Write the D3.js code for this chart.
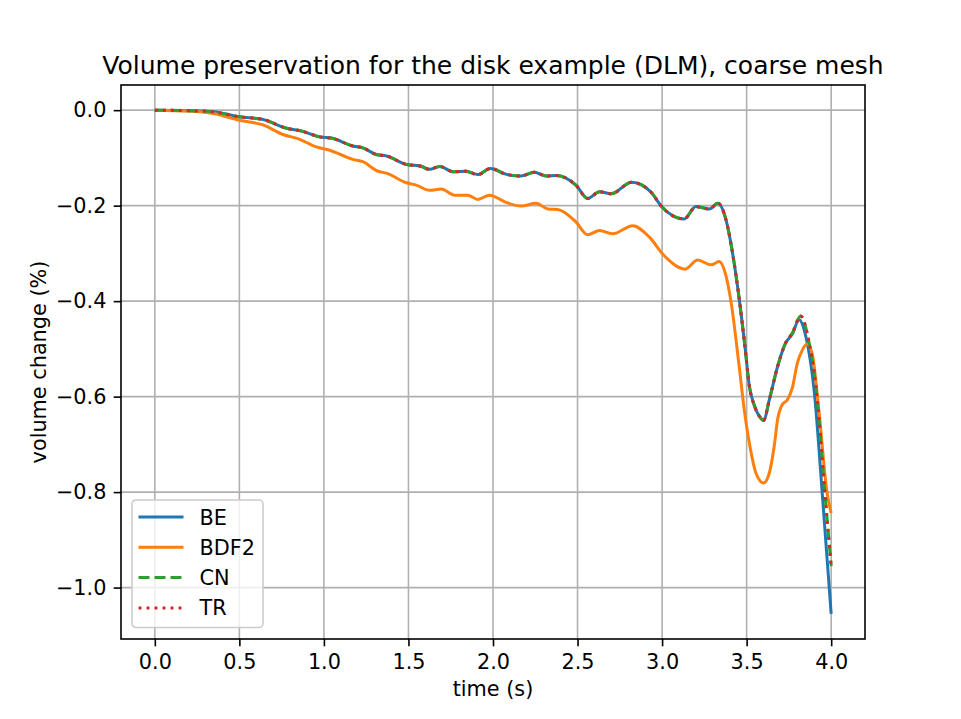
<!DOCTYPE html>
<html>
<head>
<meta charset="UTF-8">
<title>Volume preservation</title>
<script src="https://d3js.org/d3.v7.min.js"></script>
<style>
  body { margin: 0; background: #fff; }
  svg text { font-family: "DejaVu Sans", sans-serif; fill: #000; }
</style>
</head>
<body>
<div id="chart"></div>
<script>
// data
var beT = [0, 0.2, 0.345, 0.5, 0.64, 0.78, 0.87, 0.975, 1.05, 1.17, 1.23, 1.31, 1.37, 1.49, 1.57, 1.625, 1.685, 1.765, 1.84, 1.91, 1.985, 2.08, 2.165, 2.245, 2.315, 2.375, 2.49, 2.56, 2.63, 2.70, 2.82, 2.935, 3.0, 3.13, 3.2, 3.28, 3.33, 3.378, 3.417, 3.456, 3.49, 3.516, 3.545, 3.575, 3.6, 3.634, 3.683, 3.73, 3.77, 3.81, 3.85, 3.9, 3.95, 4.0];
var beV = [0, -0.001, -0.0035, -0.014, -0.0195, -0.038, -0.044, -0.056, -0.059, -0.075, -0.079, -0.093, -0.096, -0.114, -0.117, -0.124, -0.118, -0.129, -0.128, -0.135, -0.122, -0.1345, -0.138, -0.130, -0.138, -0.137, -0.157, -0.185, -0.171, -0.175, -0.151, -0.172, -0.203, -0.228, -0.202, -0.207, -0.195, -0.230, -0.300, -0.395, -0.495, -0.578, -0.618, -0.641, -0.650, -0.607, -0.537, -0.488, -0.469, -0.439, -0.474, -0.59, -0.816, -1.055];

var bdfT = [0, 0.2, 0.345, 0.5, 0.64, 0.758, 0.857, 0.955, 1.034, 1.17, 1.23, 1.32, 1.37, 1.487, 1.546, 1.625, 1.694, 1.772, 1.85, 1.91, 1.98, 2.07, 2.167, 2.255, 2.324, 2.383, 2.49, 2.56, 2.63, 2.708, 2.826, 2.925, 3.013, 3.137, 3.21, 3.29, 3.338, 3.374, 3.407, 3.456, 3.486, 3.516, 3.555, 3.6, 3.634, 3.663, 3.683, 3.71, 3.74, 3.77, 3.8, 3.83, 3.857, 3.887, 3.927, 3.976, 4.0];
var bdfV = [0, -0.002, -0.007, -0.021, -0.031, -0.051, -0.061, -0.077, -0.084, -0.103, -0.108, -0.128, -0.132, -0.152, -0.157, -0.168, -0.165, -0.178, -0.178, -0.187, -0.178, -0.192, -0.201, -0.195, -0.207, -0.208, -0.234, -0.261, -0.252, -0.259, -0.242, -0.266, -0.305, -0.333, -0.314, -0.324, -0.317, -0.342, -0.400, -0.537, -0.628, -0.697, -0.760, -0.781, -0.760, -0.704, -0.648, -0.617, -0.607, -0.582, -0.530, -0.502, -0.490, -0.509, -0.628, -0.802, -0.844];

var cnT = [0, 0.2, 0.345, 0.5, 0.64, 0.78, 0.87, 0.975, 1.05, 1.17, 1.23, 1.31, 1.37, 1.49, 1.57, 1.625, 1.685, 1.765, 1.84, 1.91, 1.985, 2.08, 2.165, 2.245, 2.315, 2.375, 2.49, 2.56, 2.63, 2.70, 2.82, 2.935, 3.0, 3.13, 3.2, 3.28, 3.33, 3.378, 3.417, 3.456, 3.49, 3.516, 3.545, 3.575, 3.6, 3.634, 3.683, 3.73, 3.77, 3.82, 3.87, 3.9, 3.918, 3.96, 4.0];
var cnV = [0, -0.001, -0.0035, -0.014, -0.0195, -0.038, -0.044, -0.056, -0.059, -0.075, -0.079, -0.093, -0.096, -0.114, -0.117, -0.124, -0.118, -0.129, -0.128, -0.135, -0.122, -0.1345, -0.138, -0.130, -0.138, -0.137, -0.157, -0.185, -0.171, -0.175, -0.151, -0.172, -0.203, -0.228, -0.202, -0.207, -0.195, -0.230, -0.300, -0.395, -0.495, -0.578, -0.618, -0.641, -0.650, -0.607, -0.537, -0.488, -0.467, -0.431, -0.488, -0.551, -0.607, -0.790, -0.955];

var trT = cnT.slice();
var trV = cnV.slice();

var xTicks = [0, 0.5, 1, 1.5, 2, 2.5, 3, 3.5, 4];
var yTicks = [0, -0.2, -0.4, -0.6, -0.8, -1.0];

var seriesNames = ["BE", "BDF2", "CN", "TR"];
var seriesColors = ["#1f77b4", "#ff7f0e", "#2ca02c", "#d62728"];
var seriesDash = [null, null, "11,5", "3,5"];

var W = 961, H = 719;
var margin = {top: 85, right: 96, bottom: 80, left: 121};
var width = W - margin.left - margin.right,
    height = H - margin.top - margin.bottom;

var svg = d3.select("#chart").append("svg")
  .attr("width", W)
  .attr("height", H);

var g = svg.append("g")
  .attr("transform", "translate(" + margin.left + "," + margin.top + ")");

var x = d3.scaleLinear().domain([-0.2, 4.2]).range([0, width]);
var y = d3.scaleLinear().domain([-1.1077, 0.0527]).range([height, 0]);

function fmt(d) { return d3.format(".1f")(d).replace("-", "\u2212"); }

// grid
g.append("g").selectAll("line").data(xTicks).enter().append("line")
  .attr("x1", function(d) { return x(d); }).attr("x2", function(d) { return x(d); })
  .attr("y1", 0).attr("y2", height)
  .attr("stroke", "#b0b0b0").attr("stroke-width", 1.6);
g.append("g").selectAll("line").data(yTicks).enter().append("line")
  .attr("y1", function(d) { return y(d); }).attr("y2", function(d) { return y(d); })
  .attr("x1", 0).attr("x2", width)
  .attr("stroke", "#b0b0b0").attr("stroke-width", 1.6);

// lines
var line = d3.line()
  .x(function(d) { return x(d[0]); })
  .y(function(d) { return y(d[1]); })
  .curve(d3.curveMonotoneX);

var allT = [beT, bdfT, cnT, trT];
var allV = [beV, bdfV, cnV, trV];
for (var i = 0; i < 4; i++) {
  var pts = d3.zip(allT[i], allV[i]);
  g.append("path")
    .datum(pts)
    .attr("fill", "none")
    .attr("stroke", seriesColors[i])
    .attr("stroke-width", 3)
    .attr("stroke-dasharray", seriesDash[i])
    .attr("d", line);
}

// axes
var xAxis = g.append("g")
  .attr("transform", "translate(0," + height + ")")
  .call(d3.axisBottom(x).tickValues(xTicks).tickFormat(fmt).tickSize(7.3).tickPadding(8));
var yAxis = g.append("g")
  .call(d3.axisLeft(y).tickValues(yTicks).tickFormat(fmt).tickSize(7.3).tickPadding(7.3));
[xAxis, yAxis].forEach(function(a) {
  a.select(".domain").remove();
  a.selectAll("line").attr("stroke", "#000").attr("stroke-width", 1.6);
  a.selectAll("text").attr("font-size", "20.8px").attr("font-family", "DejaVu Sans");
});

// frame
g.append("rect")
  .attr("width", width).attr("height", height)
  .attr("fill", "none").attr("stroke", "#000").attr("stroke-width", 1.6);

// labels
svg.append("text")
  .attr("x", margin.left + width / 2).attr("y", 74)
  .attr("text-anchor", "middle").attr("font-size", "25px")
  .text("Volume preservation for the disk example (DLM), coarse mesh");
svg.append("text")
  .attr("x", margin.left + width / 2).attr("y", 696)
  .attr("text-anchor", "middle").attr("font-size", "20.8px")
  .text("time (s)");
svg.append("text")
  .attr("transform", "translate(46," + (margin.top + height / 2) + ") rotate(-90)")
  .attr("text-anchor", "middle").attr("font-size", "20.8px")
  .text("volume change (%)");

// legend
var leg = g.append("g").attr("transform", "translate(11," + (height - 139) + ")");
leg.append("rect")
  .attr("width", 131).attr("height", 127.5)
  .attr("rx", 4).attr("ry", 4)
  .attr("fill", "#fff").attr("fill-opacity", 0.8)
  .attr("stroke", "#cccccc").attr("stroke-width", 1.6);
seriesNames.forEach(function(name, i) {
  var cy = 17 + i * 30.3;
  leg.append("line")
    .attr("x1", 6.5).attr("x2", 51.5).attr("y1", cy).attr("y2", cy)
    .attr("stroke", seriesColors[i]).attr("stroke-width", 3)
    .attr("stroke-dasharray", seriesDash[i]);
  leg.append("text")
    .attr("x", 67.5).attr("y", cy + 7.5)
    .attr("font-size", "20.8px")
    .text(name);
});
</script>
</body>
</html>
